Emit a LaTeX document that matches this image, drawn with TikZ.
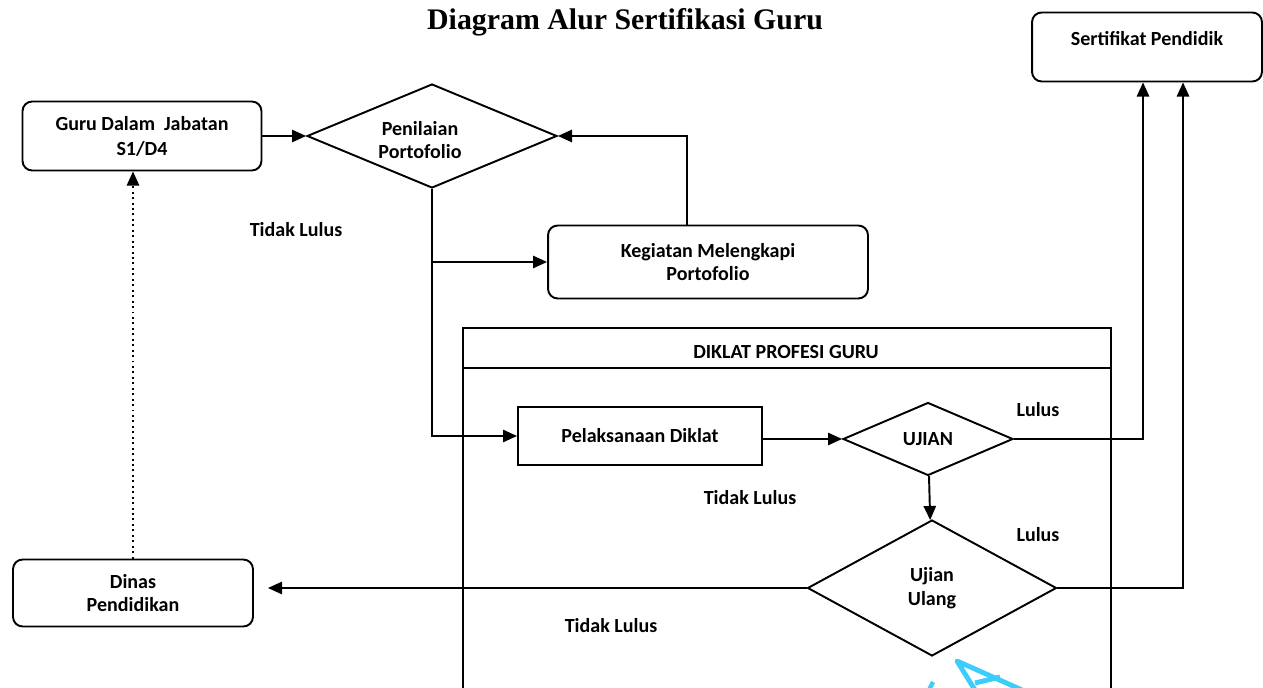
\documentclass[tikz,border=0pt]{standalone}
\usepackage{fontspec}
\setmainfont{Carlito}
\newfontfamily\titlefont{Liberation Serif}
\usetikzlibrary{arrows.meta}
\usetikzlibrary{shapes.geometric}
\definecolor{pencyan}{RGB}{60,205,250}

\begin{document}
\begin{tikzpicture}[x=0.02cm,y=-0.02cm,
		every node/.style={font=\fontsize{11.4}{13.5}\selectfont\bfseries},
		box/.style={draw, rounded corners=5.5pt, line width=1.1pt, align=center, inner sep=1pt},
		plainbox/.style={draw, line width=1.1pt, align=center, inner sep=1pt},
		diam/.style={draw, diamond, line width=1.1pt, align=center, inner sep=0pt},
		lbl/.style={inner sep=1pt},
		arr/.style={-{Triangle[length=8pt,width=7pt]}, line width=1.1pt},
		ln/.style={line width=1.1pt}]
		\useasboundingbox (0,0) rectangle (1263,688);

		% judul
		\node[font=\titlefont\fontsize{17}{20}\selectfont\bfseries] (title) at (625,22) {Diagram Alur Sertifikasi Guru};

		% kotak dan keputusan
		\node[box, minimum width=4.78cm, minimum height=1.38cm, font=\fontsize{11.4}{14.2}\selectfont\bfseries] (guru) at (142,136) {Guru Dalam~ Jabatan\\S1/D4};
		\node[diam, minimum width=5cm, minimum height=2.08cm] (pen) at (432,136) {};
		\node[lbl, align=center] (pentext) at (420,140) {Penilaian\\Portofolio};
		\node[box, minimum width=6.4cm, minimum height=1.46cm] (keg) at (708,262) {Kegiatan Melengkapi\\Portofolio};
		\node[box, minimum width=4.6cm, minimum height=1.38cm, text depth=0.35cm] (sert) at (1147,47) {Sertifikat Pendidik};
		\node[box, minimum width=4.8cm, minimum height=1.34cm] (dinas) at (133,593) {Dinas\\Pendidikan};

		% diklat profesi guru
		\draw[ln] (463,688) -- (463,328) -- (1111,328) -- (1111,688);
		\draw[ln] (463,368) -- (1111,368);
		\node (lane) at (786,352) {DIKLAT PROFESI GURU};
		\node[plainbox, minimum width=4.88cm, minimum height=1.16cm] (pel) at (640,436) {Pelaksanaan Diklat};
		\node[diam, minimum width=3.4cm, minimum height=1.46cm] (ujian) at (928,439) {UJIAN};
		\node[diam, minimum width=4.98cm, minimum height=2.72cm] (ulang) at (932,588) {Ujian\\Ulang};

		% alur
		\draw[arr] (guru.east |- pen.west) -- (pen.west);
		\draw[arr] (pen.south) |- (pel.west);
		\draw[arr] (pen.south |- keg.west) -- (keg.west);
		\draw[arr] ([xshift=-0.42cm]keg.north) |- (pen.east);
		\draw[arr] (pel.east |- ujian.west) -- (ujian.west);
		\draw[arr] (ujian.east) -| ([xshift=-0.08cm]sert.south);
		\draw[arr] (ujian) -- (ulang);
		\draw[arr] (ulang.east) -| ([xshift=0.72cm]sert.south);
		\draw[arr, shorten >=0.28cm] (ulang.west) -- (ulang.west -| dinas.east);
		\draw[arr, dotted] (dinas.north) -- (dinas.north |- guru.south);

		% keterangan
		\node[lbl] (tl1) at (296,230) {Tidak Lulus};
		\node[lbl] (tl2) at (750,498) {Tidak Lulus};
		\node[lbl] (tl3) at (611,626) {Tidak Lulus};
		\node[lbl] (l1) at (1038,410) {Lulus};
		\node[lbl] (l2) at (1038,535) {Lulus};

		% coretan biru
		\draw[pencyan, line width=2.8pt, line join=round] (1022,690) -- (957,661) -- (975,690);
		\draw[pencyan, line width=2.8pt] (975,683) -- (1000,677);
		\draw[pencyan, line width=2.5pt] (929,690) -- (933,682);
\end{tikzpicture}
\end{document}
